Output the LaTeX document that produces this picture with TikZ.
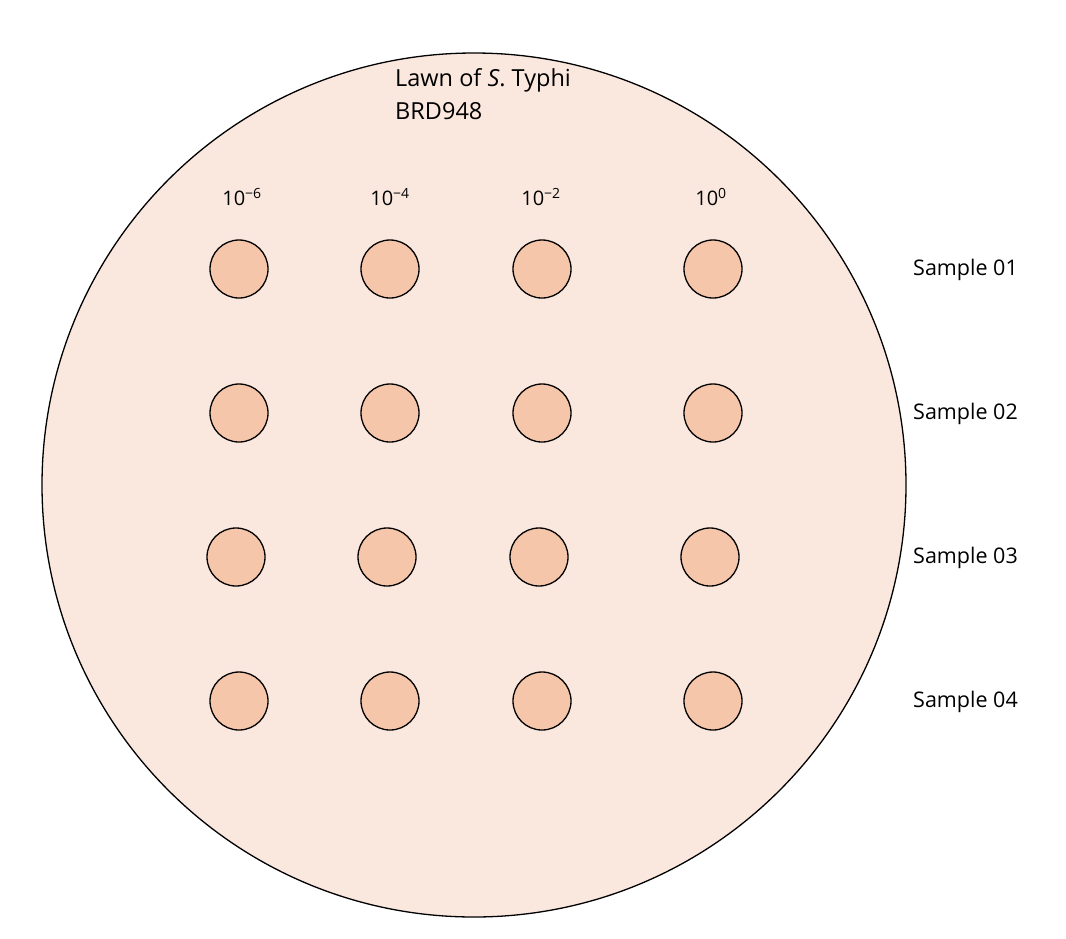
\documentclass[tikz,border=0pt]{standalone}
\usepackage{fontspec}
\setmainfont{Open Sans}
\definecolor{plate}{HTML}{FAE8DF}
\definecolor{spot}{HTML}{F5C6AA}
\begin{document}
\begin{tikzpicture}[x=1pt,y=-1pt,
  spotc/.style={circle,draw=black,line width=1.3pt,fill=spot,minimum size=58pt,inner sep=0pt},
  lbl/.style={font=\fontsize{21.5}{24}\selectfont,anchor=west,inner sep=0pt},
  dil/.style={font=\fontsize{20}{22}\selectfont,inner sep=0pt}]
\useasboundingbox (0,0) rectangle (1066,938);
\node[circle,draw=black,line width=1.3pt,fill=plate,minimum size=864pt,inner sep=0pt] (plate) at (474,485) {};
\node[font=\fontsize{23.5}{33}\selectfont,align=left,anchor=north west,inner sep=0pt] (title) at (395,68) {Lawn of \textit{S}. Typhi\\BRD948};
\node[dil] (d6) at (242,197) {10\textsuperscript{−6}};
\node[dil] (d4) at (390,197) {10\textsuperscript{−4}};
\node[dil] (d2) at (541,197) {10\textsuperscript{−2}};
\node[dil] (d0) at (711,197) {10\textsuperscript{0}};
\foreach \r/\y/\dx in {1/269/0,2/413/0,3/557/-3,4/701/0}{
  \node[spotc] (s\r a) at (239+\dx,\y) {};
  \node[spotc] (s\r b) at (390+\dx,\y) {};
  \node[spotc] (s\r c) at (542+\dx,\y) {};
  \node[spotc] (s\r d) at (713+\dx,\y) {};
}
\node[lbl] (l1) at (913,270) {Sample 01};
\node[lbl] (l2) at (913,414) {Sample 02};
\node[lbl] (l3) at (913,558) {Sample 03};
\node[lbl] (l4) at (913,702) {Sample 04};
\end{tikzpicture}
\end{document}
